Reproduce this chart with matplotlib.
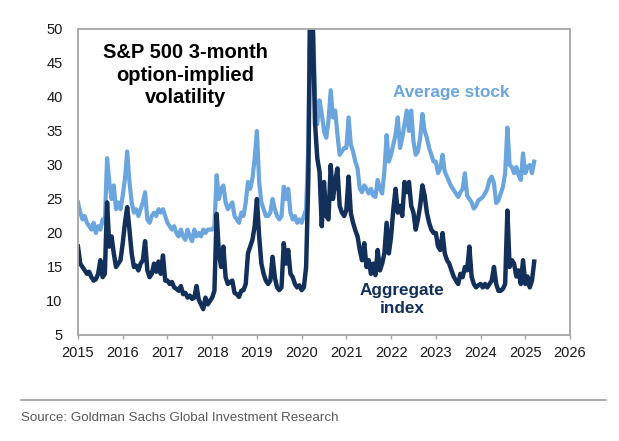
import numpy as np
import matplotlib
matplotlib.use('Agg')
import matplotlib.pyplot as plt
from matplotlib.lines import Line2D

plt.rcParams['font.family'] = ['Liberation Sans', 'DejaVu Sans']

# 3-month implied vol, every ~0.05 years (2015.00 -> 2025.20)
avg_stock = [
    24.5, 23.0, 22.0, 22.5, 21.5, 21.0, 20.5, 21.5, 20.0, 21.0, 20.5, 22.0, 21.5, 31.0, 27.5, 25.0, 27.0, 23.5, 24.5, 23.5,  # 2015
    25.5, 28.0, 32.0, 27.5, 24.5, 23.0, 23.5, 22.5, 23.5, 24.5, 26.0, 22.0, 21.5, 22.5, 23.0, 22.5, 23.5, 23.0, 23.5, 22.5,  # 2016
    21.5, 21.0, 20.5, 21.0, 20.0, 19.5, 20.5, 19.5, 19.0, 20.5, 19.5, 18.8, 20.5, 19.5, 20.0, 19.5, 20.5, 20.0, 20.5, 20.5,  # 2017
    20.5, 21.0, 28.5, 25.0, 26.5, 27.0, 24.5, 23.5, 24.0, 24.5, 22.5, 22.0, 21.5, 23.0, 22.5, 24.5, 27.5, 26.5, 28.0, 31.0,  # 2018
    35.0, 27.5, 24.5, 23.5, 22.5, 22.5, 23.0, 25.0, 23.5, 22.5, 22.0, 22.5, 26.8, 25.0, 26.5, 23.0, 22.0, 22.5, 21.5, 22.0,  # 2019
    21.5, 22.5, 23.5, 33.0, 62.0, 52.0, 40.0, 36.0, 39.5, 37.5, 35.0, 34.0, 36.5, 41.0, 37.0, 38.0, 34.5, 31.5, 32.0, 32.5,  # 2020
    32.5, 37.0, 33.0, 32.0, 30.5, 29.5, 26.5, 26.0, 27.0, 26.5, 25.8, 26.5, 25.5, 25.3, 27.8, 26.5, 25.8, 29.0, 34.4, 30.5,  # 2021
    31.5, 33.0, 34.5, 37.0, 32.5, 34.0, 36.0, 38.0, 35.0, 38.0, 33.5, 31.5, 32.0, 34.0, 37.5, 35.0, 34.0, 32.5, 31.5, 30.5,  # 2022
    30.5, 28.8, 29.5, 31.5, 29.0, 28.3, 27.5, 26.8, 26.3, 25.8, 25.3, 26.0, 26.5, 28.8, 25.5, 25.0, 24.5, 23.6, 24.0, 24.8,  # 2023
    25.0, 25.3, 25.8, 26.5, 27.8, 28.3, 27.3, 24.4, 24.8, 25.8, 26.8, 28.8, 35.5, 30.0, 29.7, 28.8, 29.7, 28.5, 27.8, 31.7,  # 2024
    28.8, 29.7, 30.0, 28.8, 30.5,  # 2025
]

aggregate = [
    18.0, 15.5, 15.0, 14.5, 14.0, 14.3, 13.5, 13.0, 13.2, 14.0, 16.0, 13.5, 14.0, 24.5, 18.0, 19.5, 17.0, 15.0, 15.5, 16.0,  # 2015
    18.5, 21.5, 23.8, 20.5, 17.0, 15.0, 15.2, 14.5, 15.5, 16.0, 18.8, 14.5, 13.5, 14.0, 15.5, 14.3, 15.8, 14.0, 16.7, 13.0,  # 2016
    13.0, 12.5, 12.8, 12.0, 11.8, 11.5, 12.2, 11.0, 11.2, 10.5, 10.8, 10.3, 10.5, 12.2, 10.2, 9.5, 8.8, 10.5, 9.5, 10.0,  # 2017
    10.5, 11.5, 22.8, 17.0, 15.0, 18.0, 13.5, 12.5, 12.8, 13.0, 11.2, 11.0, 10.6, 11.5, 11.6, 12.5, 17.0, 18.0, 19.0, 21.0,  # 2018
    25.0, 19.5, 15.5, 14.0, 13.0, 12.5, 13.0, 16.5, 13.5, 12.0, 11.6, 12.0, 18.5, 15.5, 17.5, 14.0, 13.5, 12.5, 12.0, 12.3,  # 2019
    11.6, 12.0, 15.0, 28.0, 60.0, 50.0, 36.0, 31.0, 29.0, 21.0, 27.5, 22.5, 22.0, 30.0, 25.0, 27.5, 29.5, 24.0, 23.0, 22.5,  # 2020
    23.4, 28.3, 22.9, 21.5, 20.4, 19.5, 17.5, 16.0, 18.5, 15.0, 16.0, 14.0, 15.5, 13.8, 17.5, 14.5, 15.5, 17.0, 21.5, 17.0,  # 2021
    19.5, 23.5, 26.5, 23.0, 24.0, 22.5, 27.5, 26.0, 27.5, 24.0, 23.0, 20.5, 22.0, 24.0, 27.0, 25.5, 23.0, 21.5, 20.5, 20.0,  # 2022
    20.0, 18.0, 17.5, 20.0, 17.0, 16.0, 15.5, 14.5, 13.6, 13.0, 12.5, 14.0, 13.5, 15.0, 14.5, 18.0, 13.6, 12.5, 12.0, 12.3,  # 2023
    12.5, 12.0, 12.5, 12.0, 12.5, 13.0, 15.0, 12.5, 11.5, 11.5, 11.8, 12.5, 23.3, 15.0, 16.0, 15.5, 13.6, 14.5, 12.5, 16.0,  # 2024
    12.5, 13.6, 12.0, 13.0, 15.8,  # 2025
]

years = 2015 + np.arange(len(avg_stock)) / 20
year_ticks = list(range(2015, 2027))
vol_ticks = [5, 10, 15, 20, 25, 30, 35, 40, 45, 50]

light = '#6AA5DD'
navy = '#12305A'
grey = '#A6A6A6'

fig = plt.figure(figsize=(6.19, 4.41), dpi=100)
ax = fig.add_axes([78 / 619, 1 - 335 / 441, 492 / 619, 306 / 441])

ax.plot(years, avg_stock, color=light, lw=3.0, solid_joinstyle='round')
ax.plot(years, aggregate, color=navy, lw=3.2, solid_joinstyle='round')

ax.set_xlim(2015, 2026)
ax.set_ylim(5, 50)
ax.set_xticks(year_ticks)
ax.set_yticks(vol_ticks)
ax.tick_params(axis='x', length=3, width=1, color=grey, pad=5, labelsize=10.5, labelcolor='#1a1a1a')
ax.tick_params(axis='y', length=0, pad=11, labelsize=10.5, labelcolor='#1a1a1a')
for s in ax.spines.values():
    s.set_color(grey)
    s.set_linewidth(1.3)

# annotations
ax.text(2017.4, 43.2, 'S&P 500 3-month\noption-implied\nvolatility', ha='center', va='center',
        fontsize=14.5, fontweight='bold', color='black', linespacing=1.25)
ax.text(2023.35, 40.7, 'Average stock', ha='center', va='center',
        fontsize=12.3, fontweight='bold', color=light)
ax.text(2022.25, 10.2, 'Aggregate\nindex', ha='center', va='center',
        fontsize=12.3, fontweight='bold', color=navy, linespacing=1.2)

# footer
fig.add_artist(Line2D([21 / 619, 606 / 619], [1 - 400 / 441] * 2, color=grey, lw=1.3))
fig.text(21 / 619, 1 - 418 / 441, 'Source: Goldman Sachs Global Investment Research',
         family=['Liberation Sans Narrow', 'Liberation Sans'], fontsize=9.6,
         color='#595959', va='center', ha='left')

fig.savefig('out.png', dpi=100)
